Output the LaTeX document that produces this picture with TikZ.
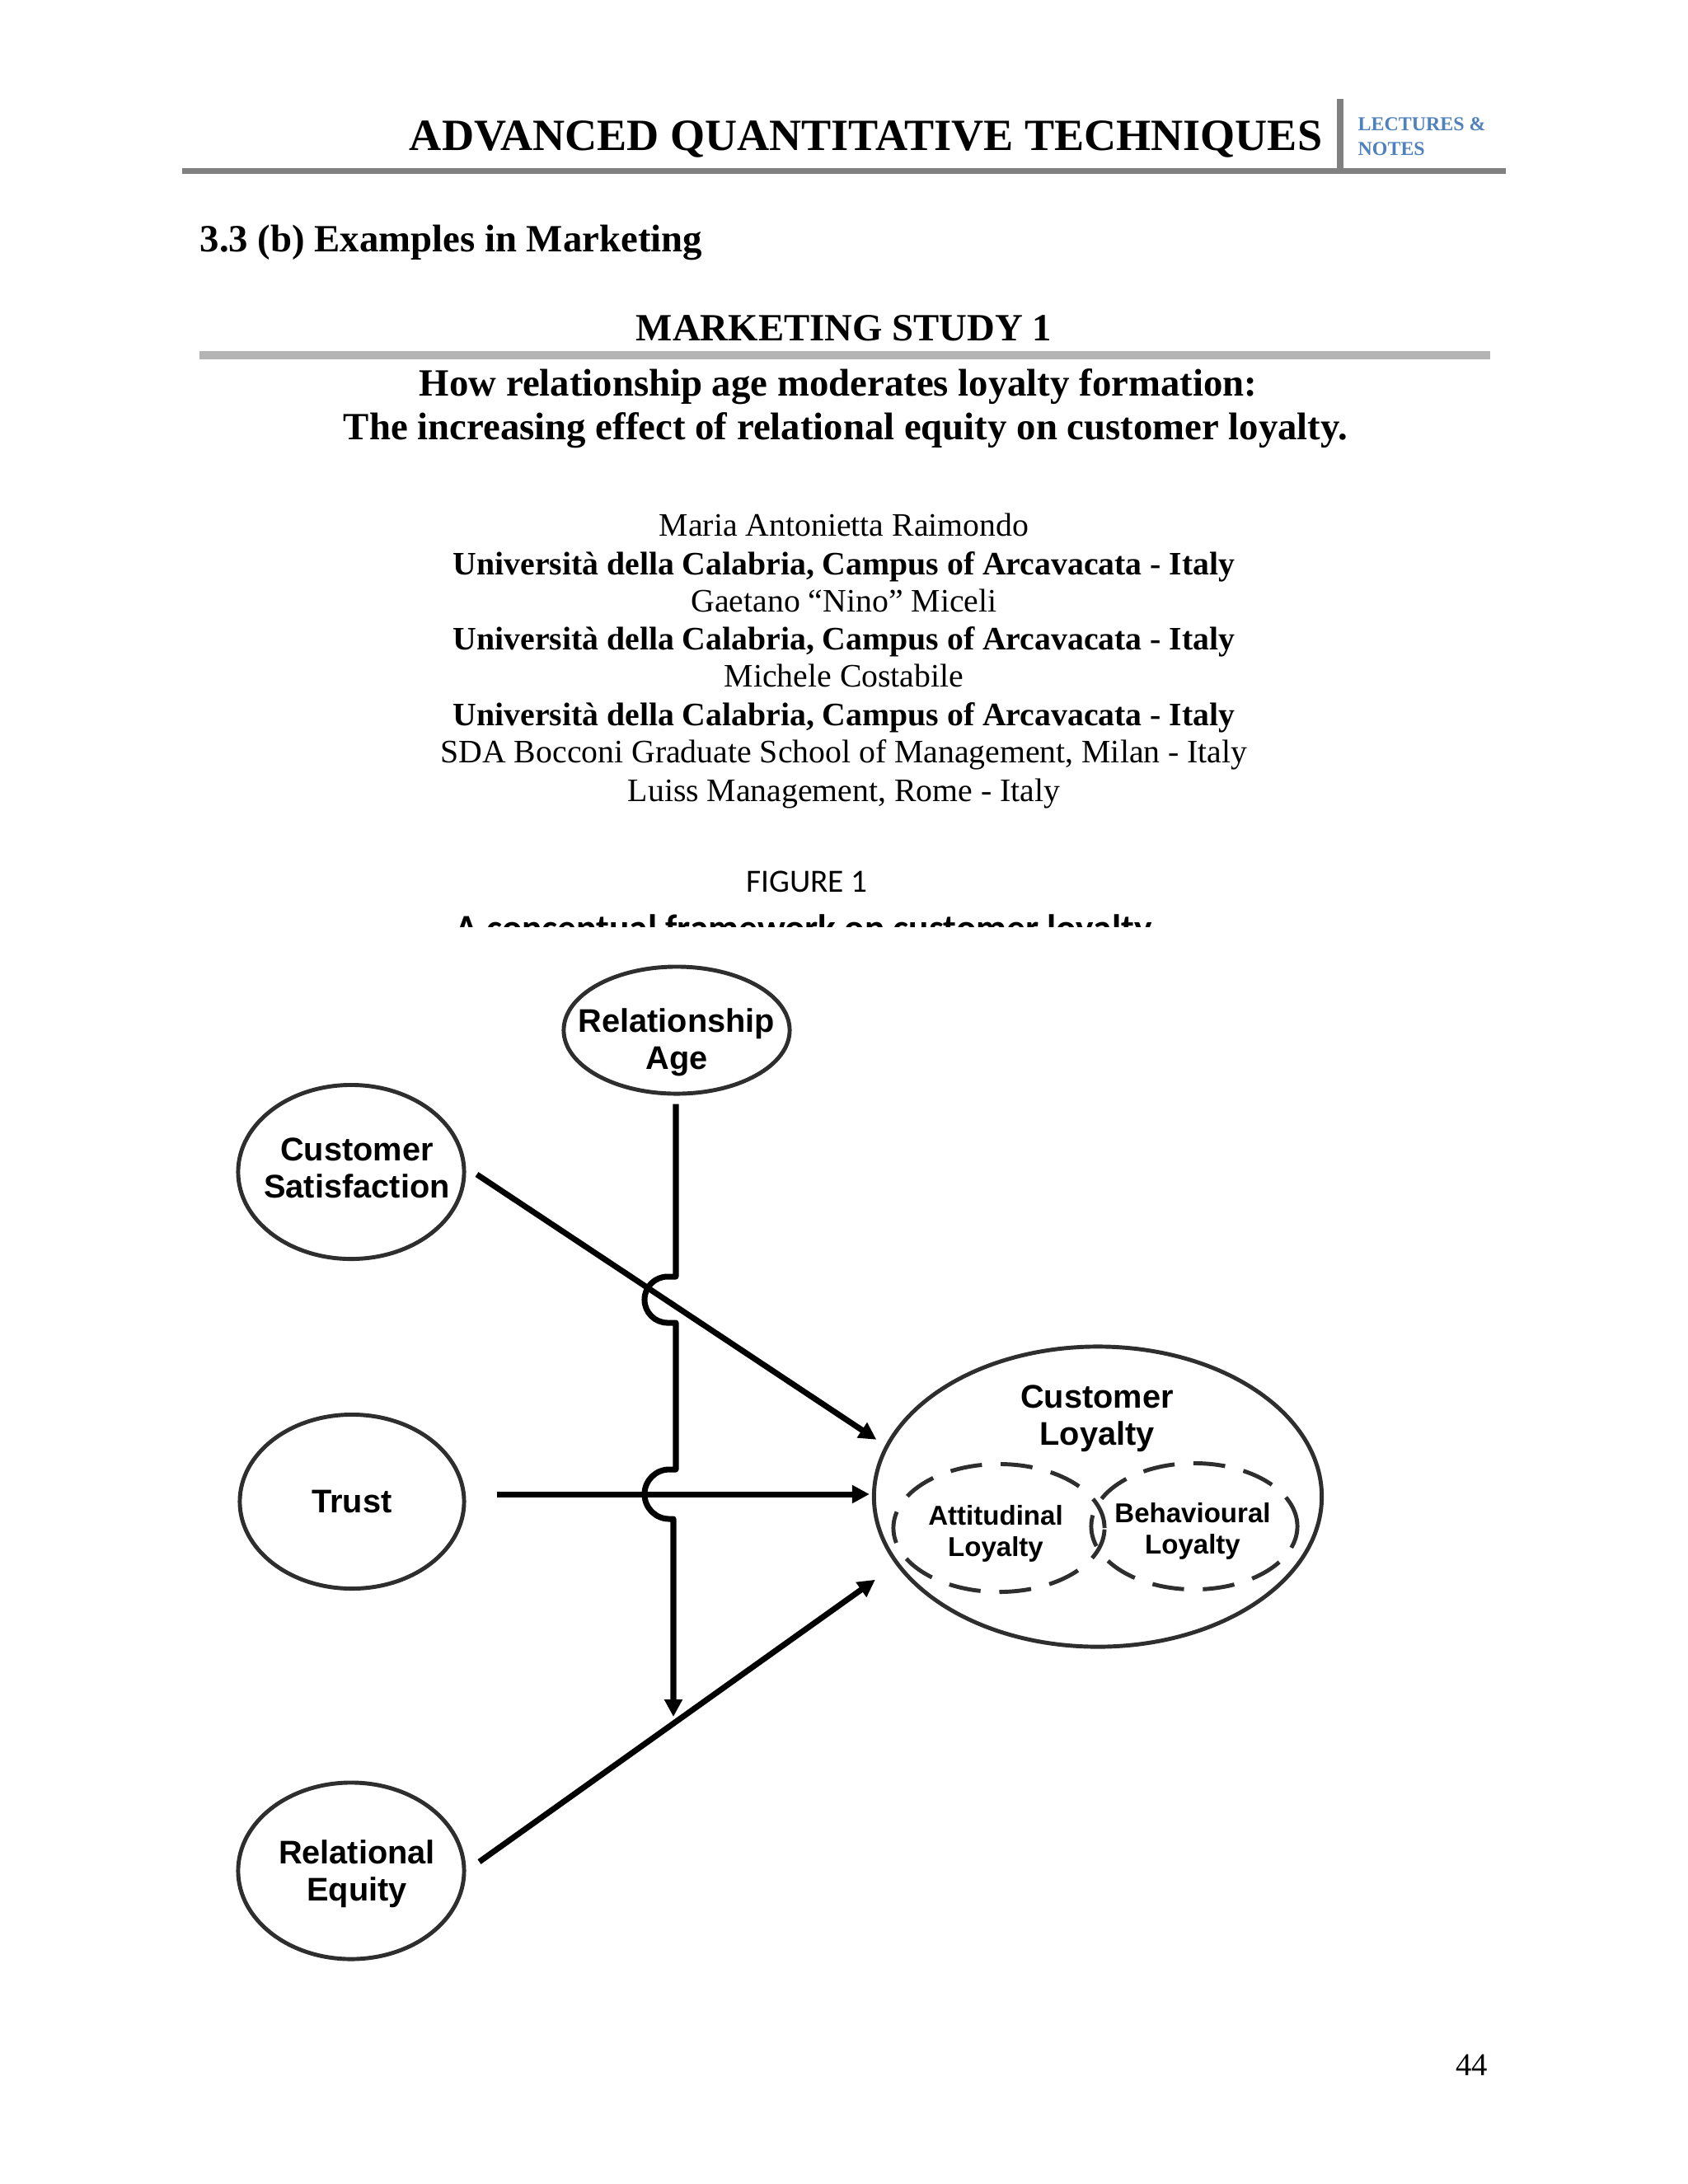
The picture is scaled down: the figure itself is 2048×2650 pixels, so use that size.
\documentclass[tikz,border=0pt]{standalone}
\usepackage{fontspec}
\setmainfont{Liberation Serif}
\newfontfamily\arialfont{Liberation Sans}
\newfontfamily\calibfont{Carlito}
\usetikzlibrary{shapes.geometric,arrows.meta}
\definecolor{notesblue}{HTML}{4F81BD}
\definecolor{rulegray}{HTML}{808080}
\definecolor{lightrule}{HTML}{B4B4B4}
\definecolor{ovalgray}{HTML}{2E2E2E}
\begin{document}
\begin{tikzpicture}[x=0.01cm,y=0.01cm,>={Triangle[length=0.21cm,width=0.21cm]}, line join=round]
			\useasboundingbox[fill=white] (0,0) rectangle (2048,-2650);
			\tikzset{every node/.style={inner sep=0pt},
				hdr/.style={font=\fontsize{15.4}{18}\selectfont\bfseries},
				notes/.style={text=notesblue,font=\fontsize{6.8}{8}\selectfont\bfseries},
				sect/.style={font=\fontsize{13.3}{16}\selectfont\bfseries},
				auth/.style={anchor=base,font=\fontsize{11.3}{13.5}\selectfont},
				affil/.style={auth,font=\fontsize{11.3}{13.5}\selectfont\bfseries},
				oval/.style={ellipse,draw=ovalgray,line width=1.4pt},
				suboval/.style={oval,dash pattern=on 11pt off 6.5pt},
				ovaltext/.style={align=center,font=\arialfont\bfseries\fontsize{11.3}{12.8}\selectfont},
				subtext/.style={align=center,font=\arialfont\bfseries\fontsize{9.4}{10.6}\selectfont},
				conn/.style={->,line width=2pt}}
			%\draw[color=gray!50,dashed] (0,0) grid[step=100] (2048,-2650);
			% page head
			\node[hdr,anchor=base east] (head) at (1605,-182) {ADVANCED QUANTITATIVE TECHNIQUES};
			\fill[rulegray] (1622,-120) rectangle (1630,-204);
			\fill[rulegray] (221,-204) rectangle (1827,-211);
			\node[notes,anchor=base west] (lect) at (1647,-158) {LECTURES \&};
			\node[notes,anchor=base west] (notes) at (1647,-188) {NOTES};
			\node[sect,anchor=base west] (sec) at (242,-305) {3.3 (b) Examples in Marketing};
			\node[sect,anchor=base] (study) at (1024,-413) {MARKETING STUDY 1};
			\fill[lightrule] (242,-426) rectangle (1808,-436);
			\node[sect,anchor=base] (titleA) at (1017,-480) {How relationship age moderates loyalty formation:};
			\node[sect,anchor=base] (titleB) at (1026,-533) {The increasing effect of relational equity on customer loyalty.};
			% authors
			\node[auth] (authA) at (1024,-650) {Maria Antonietta Raimondo};
			\node[affil] (affA) at (1024,-697) {Università della Calabria, Campus of Arcavacata - Italy};
			\node[auth] (authB) at (1024,-742) {Gaetano “Nino” Miceli};
			\node[affil] (affB) at (1024,-788) {Università della Calabria, Campus of Arcavacata - Italy};
			\node[auth] (authC) at (1024,-833) {Michele Costabile};
			\node[affil] (affC) at (1024,-880) {Università della Calabria, Campus of Arcavacata - Italy};
			\node[auth] (affD) at (1024,-925) {SDA Bocconi Graduate School of Management, Milan - Italy};
			\node[auth] (affE) at (1024,-972) {Luiss Management, Rome - Italy};
			\node[anchor=base,font=\calibfont\fontsize{11.2}{13}\selectfont] (fig) at (979,-1082) {FIGURE 1};
			\begin{scope}
				\clip (400,-1095) rectangle (1600,-1124);
				\node[anchor=base,font=\calibfont\bfseries\fontsize{12.9}{15}\selectfont] (cap) at (975,-1141) {A conceptual framework on customer loyalty};
			\end{scope}
			% the model
			\node[oval,minimum width=2.74cm,minimum height=1.54cm] (ra) at (821,-1250) {};
			\node[ovaltext] (ratxt) at (821,-1265) {Relationship\\Age};
			\node[oval,minimum width=2.74cm,minimum height=2.11cm] (cs) at (426,-1422) {};
			\node[ovaltext] (cstxt) at (433,-1417) {Customer\\Satisfaction};
			\node[oval,minimum width=2.72cm,minimum height=2.11cm] (tr) at (427,-1822) {};
			\node[ovaltext] (trtxt) at (tr) {Trust};
			\node[oval,minimum width=2.74cm,minimum height=2.14cm] (re) at (426,-2270) {};
			\node[ovaltext] (retxt) at (433,-2274) {Relational\\Equity};
			\node[oval,minimum width=5.43cm,minimum height=3.64cm] (cl) at (1332,-1816) {};
			\node[ovaltext] (cltxt) at (1331,-1721) {Customer\\Loyalty};
			\node[suboval,minimum width=2.56cm,minimum height=1.55cm] (att) at (1212,-1854) {};
			\node[subtext] (atttxt) at (1208,-1861) {Attitudinal\\Loyalty};
			\node[suboval,minimum width=2.50cm,minimum height=1.53cm] (beh) at (1449,-1852) {};
			\node[subtext] (behtxt) at (1447,-1858) {Behavioural\\Loyalty};
			\coordinate (ratip) at (817,-2083);
			\draw[conn] ([shift={(-1,-10)}]ra.south) -- (820,-1549) -- (810,-1549)
				arc[start angle=90,end angle=270,radius=0.28cm] -- (820,-1605) -- (820,-1783) -- (812,-1783)
				arc[start angle=90,end angle=270,radius=0.3cm] -- (817,-1843) -- (ratip);
			\draw[conn] ([shift={(13,-3)}]cs.east) -- ([shift={(-14,1)}]cl.165);
			\draw[conn] ([shift={(37,9)}]tr.east) -- ([shift={(-3,3)}]cl.west);
			\draw[conn] ([shift={(16,11)}]re.east) -- ([shift={(-29,-13)}]cl.200);
			\node[anchor=base east,font=\fontsize{11}{13}\selectfont] (page) at (1806,-2518) {44};
\end{tikzpicture}
\end{document}
